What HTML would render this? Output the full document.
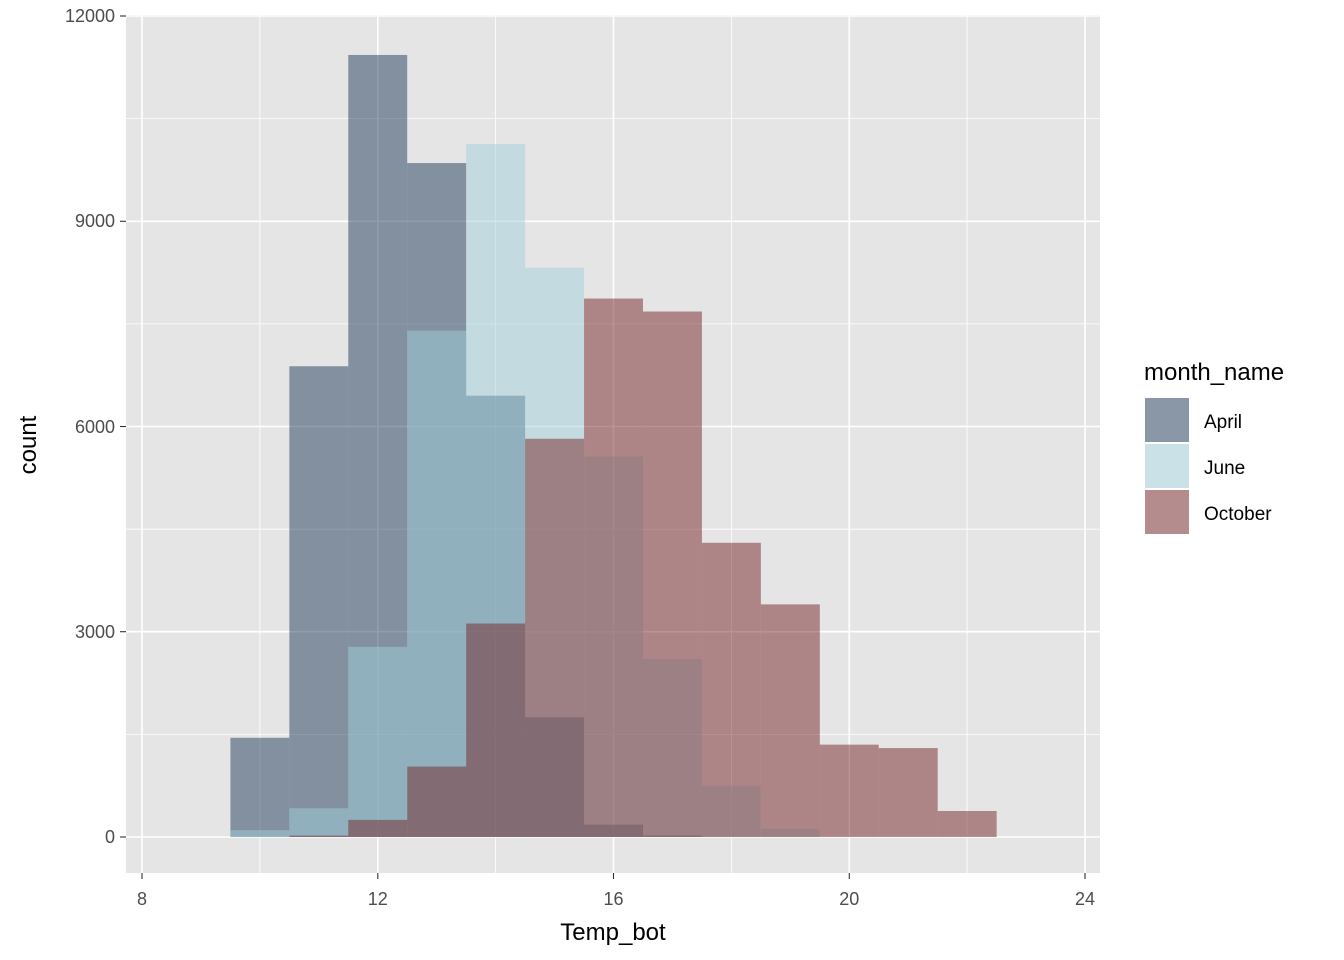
<!DOCTYPE html>
<html><head><meta charset="utf-8"><style>body{margin:0;background:#fff}svg{display:block}text{font-family:"Liberation Sans",Arial,sans-serif}</style></head>
<body>
<svg width="1344" height="960" viewBox="0 0 1344 960">
<rect x="126" y="15" width="974" height="858" fill="#e5e5e5"/>
<g stroke="#fff" stroke-width="0.8">
<line x1="126" x2="1100" y1="734.4" y2="734.4"/><line x1="126" x2="1100" y1="529.2" y2="529.2"/><line x1="126" x2="1100" y1="323.9" y2="323.9"/><line x1="126" x2="1100" y1="118.6" y2="118.6"/>
<line y1="15" y2="873" x1="259.9" x2="259.9"/><line y1="15" y2="873" x1="495.6" x2="495.6"/><line y1="15" y2="873" x1="731.4" x2="731.4"/><line y1="15" y2="873" x1="967.1" x2="967.1"/>
</g>
<g stroke="#fff" stroke-width="1.6">
<line x1="126" x2="1100" y1="837" y2="837"/><line x1="126" x2="1100" y1="631.7" y2="631.7"/><line x1="126" x2="1100" y1="426.5" y2="426.5"/><line x1="126" x2="1100" y1="221.3" y2="221.3"/><line x1="126" x2="1100" y1="16" y2="16"/>
<line y1="15" y2="873" x1="142" x2="142"/><line y1="15" y2="873" x1="377.8" x2="377.8"/><line y1="15" y2="873" x1="613.5" x2="613.5"/><line y1="15" y2="873" x1="849.3" x2="849.3"/><line y1="15" y2="873" x1="1085" x2="1085"/>
</g>
<g transform="translate(-329.52 837) scale(58.94 -0.06842)">
<g fill="#1f3b5b" fill-opacity="0.5">
<rect x="9.5" y="0" width="1" height="1450"/><rect x="10.5" y="0" width="1" height="6880"/><rect x="11.5" y="0" width="1" height="11430"/><rect x="12.5" y="0" width="1" height="9850"/><rect x="13.5" y="0" width="1" height="6450"/><rect x="14.5" y="0" width="1" height="1750"/><rect x="15.5" y="0" width="1" height="180"/><rect x="16.5" y="0" width="1" height="20"/>
</g>
<g fill="#9fcfdb" fill-opacity="0.5">
<rect x="9.5" y="0" width="1" height="100"/><rect x="10.5" y="0" width="1" height="420"/><rect x="11.5" y="0" width="1" height="2780"/><rect x="12.5" y="0" width="1" height="7400"/><rect x="13.5" y="0" width="1" height="10130"/><rect x="14.5" y="0" width="1" height="8320"/><rect x="15.5" y="0" width="1" height="5560"/><rect x="16.5" y="0" width="1" height="2600"/><rect x="17.5" y="0" width="1" height="750"/><rect x="18.5" y="0" width="1" height="120"/>
</g>
<g fill="#752527" fill-opacity="0.5">
<rect x="10.5" y="0" width="1" height="20"/><rect x="11.5" y="0" width="1" height="250"/><rect x="12.5" y="0" width="1" height="1030"/><rect x="13.5" y="0" width="1" height="3120"/><rect x="14.5" y="0" width="1" height="5820"/><rect x="15.5" y="0" width="1" height="7870"/><rect x="16.5" y="0" width="1" height="7680"/><rect x="17.5" y="0" width="1" height="4300"/><rect x="18.5" y="0" width="1" height="3400"/><rect x="19.5" y="0" width="1" height="1350"/><rect x="20.5" y="0" width="1" height="1300"/><rect x="21.5" y="0" width="1" height="380"/>
</g>
</g>
<g stroke="#333" stroke-width="1.1">
<line x1="120" x2="126" y1="837" y2="837"/><line x1="120" x2="126" y1="631.7" y2="631.7"/><line x1="120" x2="126" y1="426.5" y2="426.5"/><line x1="120" x2="126" y1="221.3" y2="221.3"/><line x1="120" x2="126" y1="16" y2="16"/>
<line y1="873" y2="879" x1="142" x2="142"/><line y1="873" y2="879" x1="377.8" x2="377.8"/><line y1="873" y2="879" x1="613.5" x2="613.5"/><line y1="873" y2="879" x1="849.3" x2="849.3"/><line y1="873" y2="879" x1="1085" x2="1085"/>
</g>
<g fill="#4d4d4d" font-size="18" text-anchor="end">
<text x="115" y="843">0</text><text x="115" y="638">3000</text><text x="115" y="433">6000</text><text x="115" y="227">9000</text><text x="115" y="22">12000</text>
</g>
<g fill="#4d4d4d" font-size="18" text-anchor="middle">
<text x="142" y="905">8</text><text x="377.8" y="905">12</text><text x="613.5" y="905">16</text><text x="849.3" y="905">20</text><text x="1085" y="905">24</text>
</g>
<text x="613" y="940" font-size="24" text-anchor="middle" fill="#000">Temp_bot</text>
<text transform="translate(36 445) rotate(-90)" font-size="24" text-anchor="middle" fill="#000">count</text>
<text x="1144" y="380" font-size="24" fill="#000">month_name</text>
<rect x="1145" y="398" width="44" height="44" fill="#f2f2f2"/>
<rect x="1145" y="398" width="44" height="44" fill="#1f3b5b" fill-opacity="0.5"/>
<rect x="1145" y="444" width="44" height="44" fill="#f2f2f2"/>
<rect x="1145" y="444" width="44" height="44" fill="#9fcfdb" fill-opacity="0.5"/>
<rect x="1145" y="490" width="44" height="44" fill="#f2f2f2"/>
<rect x="1145" y="490" width="44" height="44" fill="#752527" fill-opacity="0.5"/>
<g font-size="19" fill="#000">
<text x="1204" y="428">April</text><text x="1204" y="474">June</text><text x="1204" y="520">October</text>
</g>
</svg>
</body></html>
